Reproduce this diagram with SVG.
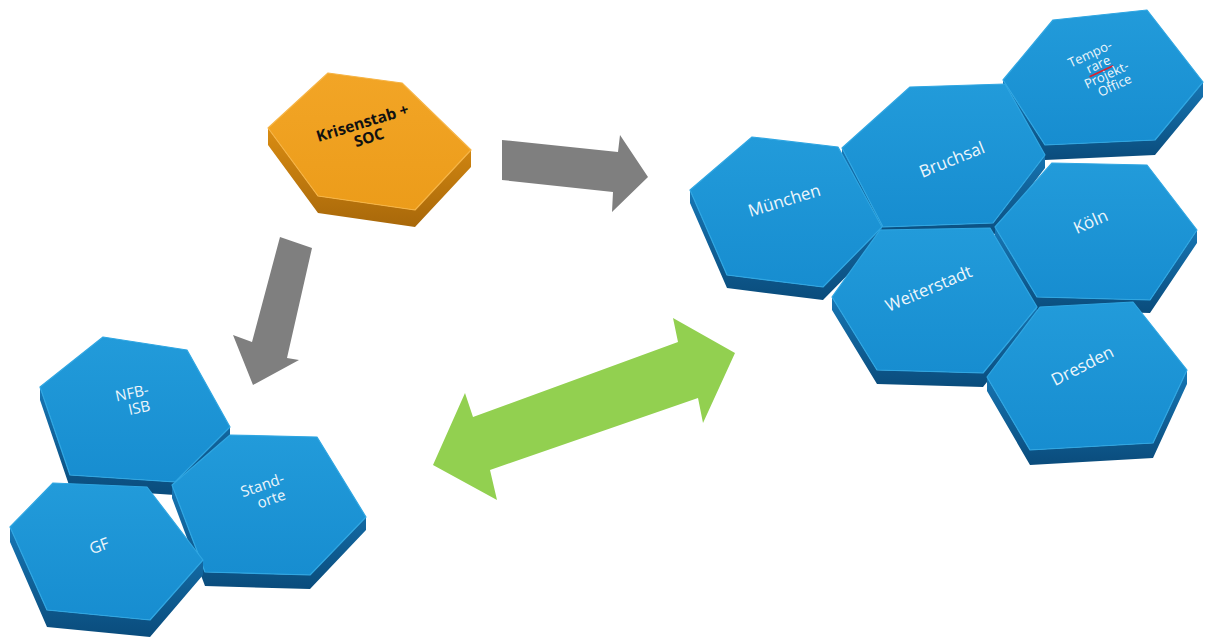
<svg xmlns="http://www.w3.org/2000/svg" width="1205" height="644" viewBox="0 0 1205 644">
<defs>
<linearGradient id="sideBlue" x1="0" y1="0" x2="0" y2="1">
<stop offset="0" stop-color="#1776B4"/>
<stop offset="1" stop-color="#0A4C7C"/>
</linearGradient>
<linearGradient id="faceBlue" x1="0" y1="0" x2="0" y2="1">
<stop offset="0" stop-color="#229BDA"/>
<stop offset="1" stop-color="#178DD0"/>
</linearGradient>
<linearGradient id="sideOrange" x1="0" y1="0" x2="0" y2="1">
<stop offset="0" stop-color="#D98C12"/>
<stop offset="1" stop-color="#A8680A"/>
</linearGradient>
<linearGradient id="faceOrange" x1="0" y1="0" x2="0" y2="1">
<stop offset="0" stop-color="#F2A526"/>
<stop offset="1" stop-color="#EC9C1A"/>
</linearGradient>
</defs>
<style>
.sb{fill:url(#sideBlue);}
.fb{fill:url(#faceBlue);stroke:#2FA6E2;stroke-width:1.2;stroke-linejoin:round;}
.so{fill:url(#sideOrange);}
.fo{fill:url(#faceOrange);stroke:#F6B445;stroke-width:1.2;stroke-linejoin:round;}
.lbl{font-family:"Open Sans","Liberation Sans",sans-serif;fill:#EEF6FB;text-anchor:middle;}
.lblk{font-family:"Open Sans","Liberation Sans",sans-serif;fill:#111111;font-weight:bold;text-anchor:middle;}
.gray{fill:#7F7F7F;}
.green{fill:#92D050;}
</style>
<rect width="1205" height="644" fill="#FFFFFF"/>

<g id="connectors">
<polygon class="gray" points="502,140 618,152 620,135 648,177 612,212 613,192 502,180"/>
<polygon class="gray" points="280,237 312,248 287,358 299,360 253,385 233,335 252,342"/>
<polygon class="green" points="433,465 465,393 473,417 678,342 673,318 735,353 703,423 698,398 490,470 497,500"/>
</g>

<g id="krisenstab">
<polygon class="so" points="268,128 318,196 415,210 471,150 471,167 415,227 318,213 268,145"/>
<polygon class="fo" points="268,128 328,73 402,83 471,150 415,210 318,196"/>
<g transform="translate(364,128) rotate(-17)">
<text class="lblk" font-size="15.5" x="0" y="0">Krisenstab +</text>
<text class="lblk" font-size="15.5" x="2" y="16">SOC</text>
</g>
</g>

<g id="tempo">
<polygon class="sb" points="1003,80 1045,145 1155,140 1203,82 1203,97 1155,155 1045,160 1003,95"/>
<polygon class="fb" points="1003,80 1053,20 1147,10 1203,82 1155,140 1045,145"/>
<g transform="translate(1098,64) rotate(-25)">
<text class="lbl" font-size="13" x="-3" y="-8">Tempo-</text>
<text class="lbl" font-size="13" x="0" y="5">rare</text>
<line x1="-13" y1="8" x2="13" y2="8" stroke="#E0202A" stroke-width="1.6"/>
<text class="lbl" font-size="13" x="3" y="18">Projekt-</text>
<text class="lbl" font-size="13" x="6" y="31">Office</text>
</g>
</g>

<g id="bruchsal">
<polygon class="sb" points="842,148 883,227 993,223 1045,155 1045,168 993,236 883,240 842,161"/>
<polygon class="fb" points="842,148 910,87 1005,84 1045,155 993,223 883,227"/>
<text class="lbl" font-size="17" transform="translate(954,165) rotate(-22)">Bruchsal</text>
</g>

<g id="muenchen">
<polygon class="sb" points="690,190 727,275 823,287 882,227 882,240 823,300 727,288 690,203"/>
<polygon class="fb" points="690,190 752,137 838,147 882,227 823,287 727,275"/>
<text class="lbl" font-size="17" transform="translate(786,206) rotate(-17)">München</text>
</g>

<g id="koeln">
<polygon class="sb" points="995,227 1037,297 1150,300 1197,230 1197,243 1150,313 1037,310 995,240"/>
<polygon class="fb" points="995,227 1052,163 1147,165 1197,230 1150,300 1037,297"/>
<text class="lbl" font-size="17" transform="translate(1093,227) rotate(-24)">Köln</text>
</g>

<g id="weiterstadt">
<polygon class="sb" points="832,297 877,370 983,373 1037,307 1037,320 983,387 877,384 832,310"/>
<polygon class="fb" points="832,297 880,230 990,228 1037,307 983,373 877,370"/>
<text class="lbl" font-size="17" transform="translate(931,294) rotate(-23)">Weiterstadt</text>
</g>

<g id="dresden">
<polygon class="sb" points="987,377 1030,450 1153,443 1187,370 1187,384 1153,458 1030,465 987,391"/>
<polygon class="fb" points="987,377 1040,307 1133,302 1187,370 1153,443 1030,450"/>
<text class="lbl" font-size="17" transform="translate(1085,371) rotate(-27)">Dresden</text>
</g>

<g id="nfb-isb">
<polygon class="sb" points="40,387 70,475 175,482 230,427 230,440 175,495 70,488 40,400"/>
<polygon class="fb" points="40,387 103,337 187,350 230,427 175,482 70,475"/>
<g transform="translate(133,398) rotate(-12)">
<text class="lbl" font-size="15" x="0" y="0">NFB-</text>
<text class="lbl" font-size="15" x="4" y="16">ISB</text>
</g>
</g>

<g id="standorte">
<polygon class="sb" points="172,485 205,572 310,575 366,517 366,530 310,589 205,586 172,498"/>
<polygon class="fb" points="172,485 230,435 317,437 366,517 310,575 205,572"/>
<g transform="translate(264,490) rotate(-19)">
<text class="lbl" font-size="15" x="0" y="0">Stand-</text>
<text class="lbl" font-size="15" x="4" y="16">orte</text>
</g>
</g>

<g id="gf">
<polygon class="sb" points="10,527 47,610 150,620 203,560 203,575 150,637 47,627 10,542"/>
<polygon class="fb" points="10,527 53,483 147,487 203,560 150,620 47,610"/>
<text class="lbl" font-size="16" transform="translate(101,551) rotate(-20)">GF</text>
</g>
</svg>
